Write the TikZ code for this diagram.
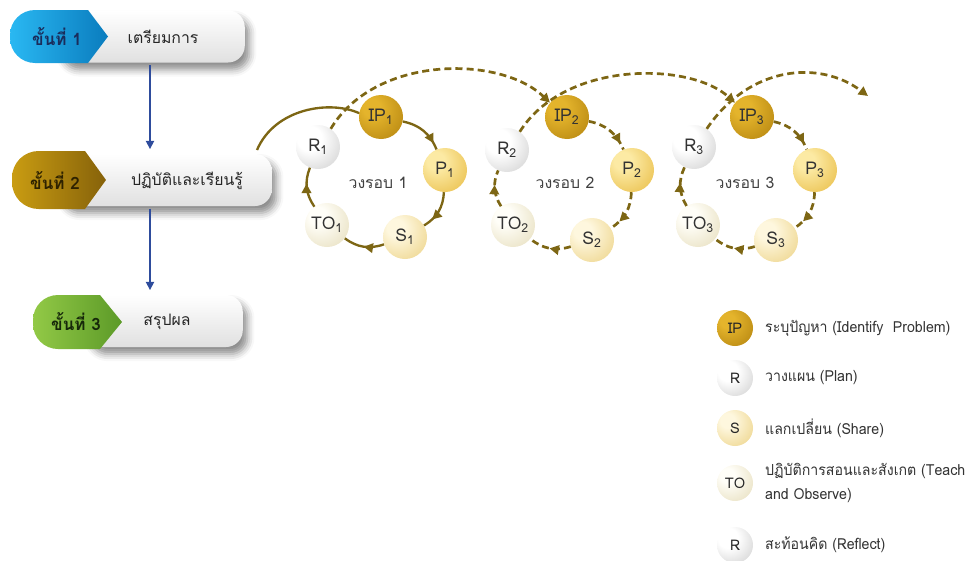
\documentclass[tikz,border=0pt]{standalone}
\usepackage{fontspec}
\setmainfont[Script=Thai]{Loma}
\newfontfamily\legendfont[Script=Thai, FakeStretch=0.93]{Loma}
\usetikzlibrary{arrows.meta,decorations.markings,shadows.blur}

\definecolor{ringc}{HTML}{7D6614}
\definecolor{flowc}{HTML}{2E4C9C}
\definecolor{ipin}{HTML}{E4B42C}\definecolor{ipout}{HTML}{A87808}
\definecolor{pin}{HTML}{FCEAA4}\definecolor{pout}{HTML}{E4B230}
\definecolor{sin}{HTML}{FEF7DE}\definecolor{sout}{HTML}{E8CA72}
\definecolor{toin}{HTML}{FFFEF8}\definecolor{toout}{HTML}{E0D6AE}
\definecolor{rin}{HTML}{FFFFFF}\definecolor{rout}{HTML}{C2C2C2}
\definecolor{blueL}{HTML}{2AB8F2}\definecolor{blueR}{HTML}{0A7CBE}
\definecolor{goldL}{HTML}{C99C12}\definecolor{goldR}{HTML}{86620A}
\definecolor{greenL}{HTML}{92C946}\definecolor{greenR}{HTML}{5C9A28}
\definecolor{navytext}{HTML}{1A2C5B}
\definecolor{browntext}{HTML}{2E2200}
\definecolor{greentext}{HTML}{16280A}

% off-centre radial shadings give the beads a lit top-left
\pgfdeclareradialshading{ipshade}{\pgfpoint{-12bp}{12bp}}{color(0bp)=(ipin);color(10bp)=(ipin);color(50bp)=(ipout);color(75bp)=(ipout)}
\pgfdeclareradialshading{pshade}{\pgfpoint{-12bp}{12bp}}{color(0bp)=(pin);color(10bp)=(pin);color(50bp)=(pout);color(75bp)=(pout)}
\pgfdeclareradialshading{sshade}{\pgfpoint{-12bp}{12bp}}{color(0bp)=(sin);color(10bp)=(sin);color(50bp)=(sout);color(75bp)=(sout)}
\pgfdeclareradialshading{toshade}{\pgfpoint{-12bp}{12bp}}{color(0bp)=(toin);color(10bp)=(toin);color(50bp)=(toout);color(75bp)=(toout)}
\pgfdeclareradialshading{rshade}{\pgfpoint{-12bp}{12bp}}{color(0bp)=(rin);color(14bp)=(rin);color(50bp)=(rout);color(75bp)=(rout)}

\begin{document}
\begin{tikzpicture}[
  x=0.03cm, y=-0.03cm,
  whitebox/.style={rounded corners=0.5cm, minimum height=1.56cm,
    top color=white, bottom color=black!12,
    blur shadow={shadow xshift=4pt, shadow yshift=-6pt, shadow blur radius=6pt, shadow opacity=45}},
  captext/.style={font=\fontsize{14.5}{14.5}\bfseries\selectfont},
  boxtext/.style={font=\fontsize{13.5}{13.5}\selectfont, text=black!85},
  flowarrow/.style={draw=flowc, line width=1.3pt, -{Triangle[length=7pt,width=7pt]}},
  bead/.style={circle, minimum size=1.32cm, inner sep=0pt, font=\fontsize{15}{15}\selectfont, text=black!80},
  smallbead/.style={circle, minimum size=1.08cm, inner sep=0pt, font=\fontsize{12.5}{12.5}\selectfont, text=black!85},
  ipb/.style={shading=ipshade},
  pb/.style={shading=pshade},
  sb/.style={shading=sshade},
  tob/.style={shading=toshade},
  rb/.style={shading=rshade},
  ringsolid/.style={draw=ringc, line width=2pt},
  ringdash/.style={draw=ringc, line width=2.3pt, dash pattern=on 6pt off 3.5pt},
  arrowat/.style={postaction={decorate}, decoration={markings,
    mark=at position #1 with {\arrow[ringc]{Triangle[length=8pt,width=8pt]}}}},
  roundlabel/.style={font=\fontsize{13.5}{13.5}\selectfont, text=black!75},
  legendtext/.style={anchor=west, align=left, font=\legendfont\fontsize{13}{21}\selectfont, text=black!80}
]
\useasboundingbox (0,0) rectangle (970,561);

% ---- step 1
\node[whitebox, minimum width=5.6cm, anchor=east] (w1) at (245,36.5) {};
\shade[left color=blueL, right color=blueR]
  (88,10) [rounded corners=0.75cm] -- (10,10) -- (10,63) [sharp corners] -- (88,63) -- (108,36.5) -- cycle;
\node[captext, text=navytext] (c1) at (57,37) {ขั้นที่ 1};
\node[boxtext] (t1) at (163,37) {เตรียมการ};

% ---- step 2
\node[whitebox, minimum width=6.4cm, anchor=east] (w2) at (272,180) {};
\shade[left color=goldL, right color=goldR]
  (85,151) [rounded corners=0.8cm] -- (12,151) -- (12,209) [sharp corners] -- (85,209) -- (106,180) -- cycle;
\node[captext, text=browntext] (c2) at (55,181) {ขั้นที่ 2};
\node[boxtext] (t2) at (187,181) {ปฏิบัติและเรียนรู้};

% ---- step 3
\node[whitebox, minimum width=4.7cm, anchor=east] (w3) at (243,321) {};
\shade[left color=greenL, right color=greenR]
  (100,295) [rounded corners=0.75cm] -- (33,295) -- (33,349) [sharp corners] -- (100,349) -- (122,322) -- cycle;
\node[captext, text=greentext] (c3) at (76,322) {ขั้นที่ 3};
\node[boxtext] (t3) at (167,322) {สรุปผล};

% ---- flow between steps
\coordinate (ax) at (150,0);
\draw[flowarrow, shorten <=2pt, shorten >=4pt] (w1.south -| ax) -- (w2.north -| ax);
\draw[flowarrow, shorten <=2pt, shorten >=4pt] (w2.south -| ax) -- (w3.north -| ax);

% ---- the three rounds of beads
\foreach \k/\ipx/\ipy/\px/\py/\sx/\sy/\tx/\ty/\rx/\ry/\lx in {
    1/381/117/445/170/405/237/327/225/318/147/378,
    2/567/117/632/170/592/240/513/225/507/150/565,
    3/752/117/815/170/776/240/698/225/694/147/745}{
  \node[bead, ipb] (IP\k) at (\ipx,\ipy) {IP\textsubscript{\k}};
  \node[bead, pb]  (P\k)  at (\px,\py)   {P\textsubscript{\k}};
  \node[bead, sb]  (S\k)  at (\sx,\sy)   {S\textsubscript{\k}};
  \node[bead, tob] (TO\k) at (\tx,\ty)   {TO\textsubscript{\k}};
  \node[bead, rb]  (R\k)  at (\rx,\ry)   {R\textsubscript{\k}};
  \node[roundlabel] (L\k) at (\lx,183) {วงรอบ \k};
}

% ring connectors: round 1 solid, rounds 2 and 3 dashed
\foreach \k/\st in {1/ringsolid, 2/ringdash, 3/ringdash}{
  \draw[\st, arrowat=0.85] (IP\k) to[bend left=28] (P\k);
  \draw[\st, arrowat=0.75] (P\k)  to[bend left=28] (S\k);
  \draw[\st, arrowat=0.5] (S\k)  to[bend left=28] (TO\k);
  \draw[\st, arrowat=0.6] (TO\k) to[bend left=28] (R\k);
}

% links from one round into the next
\coordinate (c0) at (257,150);
\draw[ringsolid] (c0) .. controls (275,108) and (330,100) .. (IP1.170);
\draw[ringdash, -{Triangle[length=8pt,width=8pt]}] (R1.55) .. controls (375,55) and (500,55) .. (IP2.140);
\draw[ringdash, -{Triangle[length=8pt,width=8pt]}] (R2.55) .. controls (565,60) and (690,62) .. (IP3.140);
\coordinate (cend) at (868,96);
\draw[ringdash, -{Triangle[length=8pt,width=8pt]}] (R3.55) .. controls (750,65) and (820,60) .. (cend);

% ---- legend
\node[smallbead, ipb] (g1) at (735,328) {IP};
\node[smallbead, rb]  (g2) at (735,378) {R};
\node[smallbead, sb]  (g3) at (735,428) {S};
\node[smallbead, tob] (g4) at (735,483) {TO};
\node[smallbead, rb]  (g5) at (735,545) {R};
\node[legendtext] (d1) at (761,328) {ระบุปัญหา (Identify~ Problem)};
\node[legendtext] (d2) at (761,378) {วางแผน (Plan)};
\node[legendtext] (d3) at (761,428) {แลกเปลี่ยน (Share)};
\node[legendtext] (d4) at (761,483) {ปฏิบัติการสอนและสังเกต (Teach\\and Observe)};
\node[legendtext] (d5) at (761,545) {สะท้อนคิด (Reflect)};
\end{tikzpicture}
\end{document}
